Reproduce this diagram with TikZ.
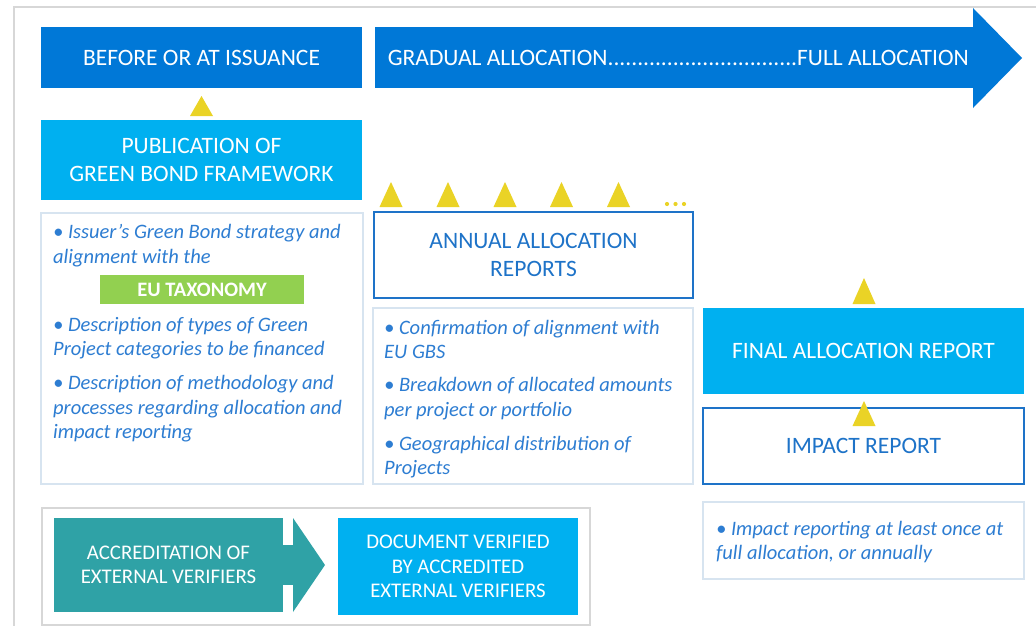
\documentclass[tikz,border=0pt]{standalone}
\usepackage{fontspec}
\setmainfont{Carlito}
\definecolor{darkblue}{RGB}{0,120,215}
\definecolor{cyanb}{RGB}{0,176,240}
\definecolor{yel}{RGB}{234,211,38}
\definecolor{greenb}{RGB}{146,208,80}
\definecolor{tealb}{RGB}{47,162,166}
\definecolor{txtblue}{RGB}{45,125,210}
\definecolor{boxblue}{RGB}{30,115,200}
\definecolor{lightline}{RGB}{215,228,240}
\definecolor{framegray}{RGB}{215,215,215}
\newcommand{\headfont}{\fontsize{23.5}{28.5}\selectfont}
\newcommand{\midfont}{\fontsize{20.8}{24.5}\selectfont}
\newcommand{\bulfont}{\fontsize{20.5}{24.5}\selectfont\itshape}
\begin{document}
\begin{tikzpicture}[x=1pt,y=-1pt,
  filled/.style={fill=#1, text=white, inner sep=0, outer sep=0, align=center, font=\headfont},
  outlined/.style={draw=boxblue, line width=1.8pt, fill=white, text=boxblue, inner sep=0, outer sep=0, align=center, font=\headfont},
  lightbox/.style={draw=lightline, line width=1.3pt, inner sep=0, outer sep=0},
  graybox/.style={draw=framegray, line width=1.3pt, inner sep=0, outer sep=0},
  bul/.style={text=txtblue, font=\bulfont, align=left, anchor=west, inner sep=0},
  marker/.style={fill=yel}
]
\useasboundingbox (0,0) rectangle (1036,626);
\fill[white] (0,0) rectangle (1036,626);
% outer frame
\draw[framegray, line width=1.5pt] (14,626) -- (14,7) -- (1036,7);

% top row
\node[filled=darkblue, minimum width=321, minimum height=61] (before) at (201.5,57.5) {BEFORE OR AT ISSUANCE};
\node[filled=darkblue, minimum width=598, minimum height=61] (alloc) at (674,57.5) {};
\fill[darkblue] (973,8) -- (1022,58) -- (973,108) -- cycle;
\node[text=white, font=\headfont, inner sep=0] (alloctxt) at (678.5,57.5) {GRADUAL ALLOCATION................................FULL ALLOCATION};

% left column
\fill[marker] (190,116) -- (213,116) -- (201.5,96) -- cycle;
\node[filled=cyanb, minimum width=321, minimum height=80] (pub) at (201.5,160) {PUBLICATION OF\\GREEN BOND FRAMEWORK};
\node[lightbox, minimum width=322, minimum height=271] (leftbul) at (202,348.5) {};
\node[bul] (lb1) at (53,245.5) {\textbullet\ Issuer’s Green Bond strategy and\\alignment with the};
\node[filled=greenb, minimum width=204, minimum height=29, font=\fontsize{20.5}{22}\selectfont\bfseries] (eutax) at (202,289.5) {EU TAXONOMY};
\node[bul] (lb2) at (53,338) {\textbullet\ Description of types of Green\\Project categories to be financed};
\node[bul] (lb3) at (53,409) {\textbullet\ Description of methodology and\\processes regarding allocation and\\impact reporting};

% middle column
\foreach \cx in {391,448,505,561.5,618.5}
  \fill[marker] (\cx-11.5,207) -- (\cx+11.5,207) -- (\cx,182) -- cycle;
\foreach \cx in {667,675.5,684}
  \fill[yel] (\cx,204) circle (2.1);
\node[outlined, minimum width=319, minimum height=86] (annual) at (533.5,255) {ANNUAL ALLOCATION\\REPORTS};
\node[lightbox, minimum width=320, minimum height=176] (annbul) at (533,396) {};
\node[bul] (ab1) at (384,339.5) {\textbullet\ Confirmation of alignment with\\EU GBS};
\node[bul] (ab2) at (384,398.5) {\textbullet\ Breakdown of allocated amounts\\per project or portfolio};
\node[bul] (ab3) at (384,457) {\textbullet\ Geographical distribution of\\Projects};

% right column
\fill[marker] (852.5,304) -- (875.5,304) -- (864,278) -- cycle;
\node[filled=cyanb, minimum width=321, minimum height=86] (final) at (863.5,351) {FINAL ALLOCATION REPORT};
\node[outlined, minimum width=321, minimum height=76] (impact) at (863.5,446) {IMPACT REPORT};
\fill[marker] (852.5,426) -- (875.5,426) -- (864,401) -- cycle;
\node[lightbox, minimum width=321, minimum height=77] (impbul) at (863.5,540.5) {};
\node[bul] (ib1) at (716,542) {\textbullet\ Impact reporting at least once at\\full allocation, or annually};

% bottom verification
\node[graybox, minimum width=548, minimum height=117] (verframe) at (316,566.5) {};
\node[filled=tealb, minimum width=229, minimum height=94, font=\midfont] (accred) at (168.5,565) {ACCREDITATION OF\\EXTERNAL VERIFIERS};
\fill[tealb] (accred.east) ++(0,-20) rectangle ++(10.5,40);
\fill[tealb] (293,518) -- (325,565) -- (293,612) -- cycle;
\node[filled=cyanb, minimum width=240, minimum height=97, font=\midfont] (docver) at (458,566.5) {DOCUMENT VERIFIED\\BY ACCREDITED\\EXTERNAL VERIFIERS};
\end{tikzpicture}
\end{document}
